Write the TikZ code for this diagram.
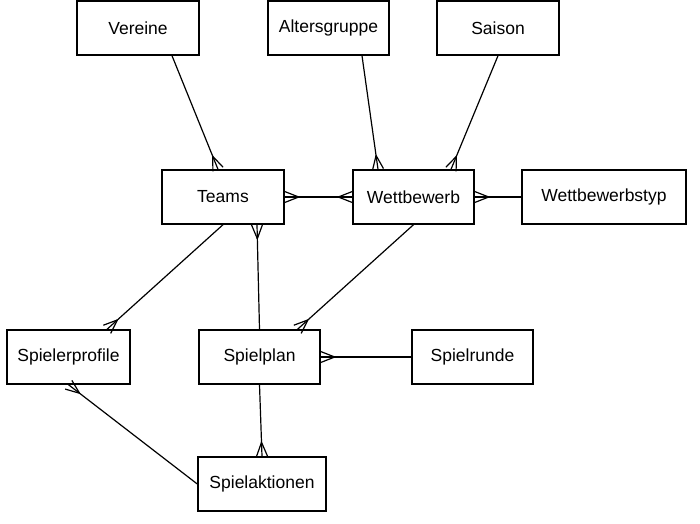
\documentclass[tikz,border=0pt]{standalone}
\usepackage{fontspec}
\setmainfont{Liberation Sans}
\usetikzlibrary{calc}
\tikzset{
  ent/.style={draw, line width=1.4pt, minimum height=54pt, inner sep=0pt, font=\fontsize{17.5}{20}\selectfont},
  conn/.style={line width=1.2pt}
}
\newcommand\crowfoot[2]{%
  \draw[conn] ($(#1)!14pt!(#2)$) -- ($(#1)!5.5pt!90:(#2)$)
              ($(#1)!14pt!(#2)$) -- ($(#1)!5.5pt!-90:(#2)$);}
\begin{document}
\begin{tikzpicture}[x=1pt,y=-1pt]
\useasboundingbox (0,0) rectangle (700,523);
% entities
\node[ent, minimum width=122pt] (vereine) at (138,28) {Vereine};
\node[ent, minimum width=121pt] (alters) at (328.5,28) {Altersgruppe};
\node[ent, minimum width=122pt] (saison) at (498,28) {Saison};
\node[ent, minimum width=122pt] (teams) at (223,197) {Teams};
\node[ent, minimum width=121pt] (wettbewerb) at (413.5,197) {Wettbewerb};
\node[ent, minimum width=164pt] (wtyp) at (604,197) {Wettbewerbstyp};
\node[ent, minimum width=123pt] (sprofile) at (68.5,357) {Spielerprofile};
\node[ent, minimum width=121pt] (splan) at (259.5,357) {Spielplan};
\node[ent, minimum width=121pt] (srunde) at (472.5,357) {Spielrunde};
\node[ent, minimum width=128pt] (saktion) at (262,484) {Spielaktionen};
% connector end points
\coordinate (v1) at ([xshift=34pt]vereine.south);
\coordinate (t1) at ([xshift=-5pt]teams.north);
\coordinate (a1) at ([xshift=33.5pt]alters.south);
\coordinate (w1) at ([xshift=-35.5pt]wettbewerb.north);
\coordinate (w2) at ([xshift=37.5pt]wettbewerb.north);
\coordinate (p1) at ([xshift=38.5pt]sprofile.north);
\coordinate (t2) at ([xshift=34pt]teams.south);
\coordinate (l1) at ([xshift=38pt]splan.north);
% connectors
\draw[conn] (v1) -- (t1); \crowfoot{t1}{v1}
\draw[conn] (a1) -- (w1); \crowfoot{w1}{a1}
\draw[conn] (saison.south) -- (w2); \crowfoot{w2}{saison.south}
\draw[conn] (teams.east) -- (wettbewerb.west);
\crowfoot{teams.east}{wettbewerb.west}
\crowfoot{wettbewerb.west}{teams.east}
\draw[conn] (wettbewerb.east) -- (wtyp.west); \crowfoot{wettbewerb.east}{wtyp.west}
\draw[conn] (teams.south) -- (p1); \crowfoot{p1}{teams.south}
\draw[conn] (t2) -- (splan.north); \crowfoot{t2}{splan.north}
\draw[conn] (wettbewerb.south) -- (l1); \crowfoot{l1}{wettbewerb.south}
\draw[conn] (splan.east) -- (srunde.west); \crowfoot{splan.east}{srunde.west}
\draw[conn] (splan.south) -- (saktion.north); \crowfoot{saktion.north}{splan.south}
\draw[conn] (saktion.west) -- (sprofile.south); \crowfoot{sprofile.south}{saktion.west}
\end{tikzpicture}
\end{document}
